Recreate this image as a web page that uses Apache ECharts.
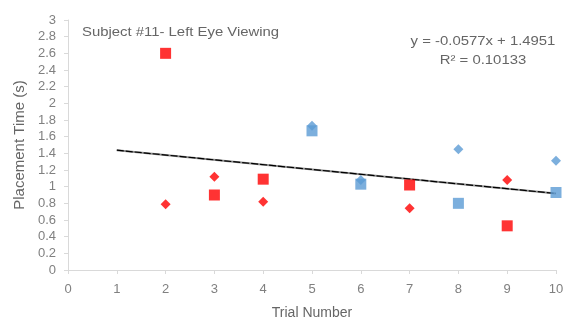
<!DOCTYPE html>
<html>
<head>
<meta charset="utf-8">
<script src="https://cdn.jsdelivr.net/npm/echarts@6/dist/echarts.min.js"></script>
<style>
html,body{margin:0;padding:0;background:#fff;}
#chart{width:568px;height:320px;}
</style>
</head>
<body>
<div id="chart"></div>
<script>
// Placement times per trial, grouped by condition and marker shape
const redSquareTrials = [2, 3, 4, 7, 9];
const redSquareTimes = [2.6, 0.9, 1.09, 1.02, 0.53];
const redDiamondTrials = [2, 3, 4, 7, 9];
const redDiamondTimes = [0.79, 1.12, 0.82, 0.74, 1.08];
const blueSquareTrials = [5, 6, 8, 10];
const blueSquareTimes = [1.67, 1.03, 0.8, 0.93];
const blueDiamondTrials = [5, 6, 8, 10];
const blueDiamondTimes = [1.73, 1.08, 1.45, 1.31];

// Linear trend fitted over all trials
const trendSlope = -0.0577;
const trendIntercept = 1.4951;
const trendR2 = '0.10133';
const trendRange = [1, 10];

const pairs = (xs, ys) => xs.map((x, i) => [x, ys[i]]);
const trendData = trendRange.map(x => [x, trendIntercept + trendSlope * x]);

const labelColor = '#808080';
const textColor = '#666666';
const font = 'Liberation Sans, Arial, sans-serif';

const chart = echarts.init(document.getElementById('chart'));
chart.setOption({
  animation: false,
  grid: { left: 68, right: 12, top: 20, bottom: 50, outerBoundsMode: 'none', containLabel: false },
  graphic: [
    { type: 'text', x: 82, y: 27, scaleX: 1.24,
      style: { text: 'Subject #11- Left Eye Viewing', fill: textColor, font: '12px ' + font, textAlign: 'left' } },
    { type: 'text', x: 483, y: 36, scaleX: 1.24,
      style: { text: 'y = -0.0577x + 1.4951', fill: textColor, font: '12px ' + font, textAlign: 'center' } },
    { type: 'text', x: 483, y: 55, scaleX: 1.24,
      style: { text: 'R² = ' + trendR2, fill: textColor, font: '12px ' + font, textAlign: 'center' } }
  ],
  xAxis: {
    type: 'value', min: 0, max: 10, interval: 1,
    name: 'Trial Number', nameLocation: 'middle', nameGap: 36,
    nameTextStyle: { color: textColor, fontSize: 14, fontFamily: font },
    axisLine: { lineStyle: { color: '#d9d9d9' } },
    axisTick: { show: true, length: 4, lineStyle: { color: '#d9d9d9' } },
    axisLabel: { color: labelColor, fontSize: 13, fontFamily: font, margin: 13 },
    splitLine: { show: false }
  },
  yAxis: {
    type: 'value', min: 0, max: 3, interval: 0.2,
    name: 'Placement Time (s)', nameLocation: 'middle', nameGap: 41,
    nameTextStyle: { color: textColor, fontSize: 15, fontFamily: font },
    axisLine: { show: true, lineStyle: { color: '#d9d9d9' } },
    axisTick: { show: true, length: 4, lineStyle: { color: '#d9d9d9' } },
    axisLabel: { color: labelColor, fontSize: 13, fontFamily: font, margin: 12 },
    splitLine: { show: false }
  },
  series: [
    {
      type: 'line', data: trendData, symbol: 'none', z: 1,
      lineStyle: { color: '#8c8c8c', width: 2 }
    },
    {
      type: 'line', data: trendData, symbol: 'none', z: 2,
      lineStyle: { color: '#000', width: 1.2, type: [7, 2] }
    },
    { type: 'scatter', data: pairs(blueDiamondTrials, blueDiamondTimes), symbol: 'diamond', symbolSize: 10, itemStyle: { color: '#5b9bd5' }, z: 3 },
    { type: 'scatter', data: pairs(blueSquareTrials, blueSquareTimes), symbol: 'rect', symbolSize: 11, itemStyle: { color: '#5b9bd5' }, z: 4 },
    { type: 'scatter', data: pairs(redDiamondTrials, redDiamondTimes), symbol: 'diamond', symbolSize: 10, itemStyle: { color: '#ff0000' }, z: 3 },
    { type: 'scatter', data: pairs(redSquareTrials, redSquareTimes), symbol: 'rect', symbolSize: 11, itemStyle: { color: '#ff0000' }, z: 4 }
  ]
});
</script>
</body>
</html>
